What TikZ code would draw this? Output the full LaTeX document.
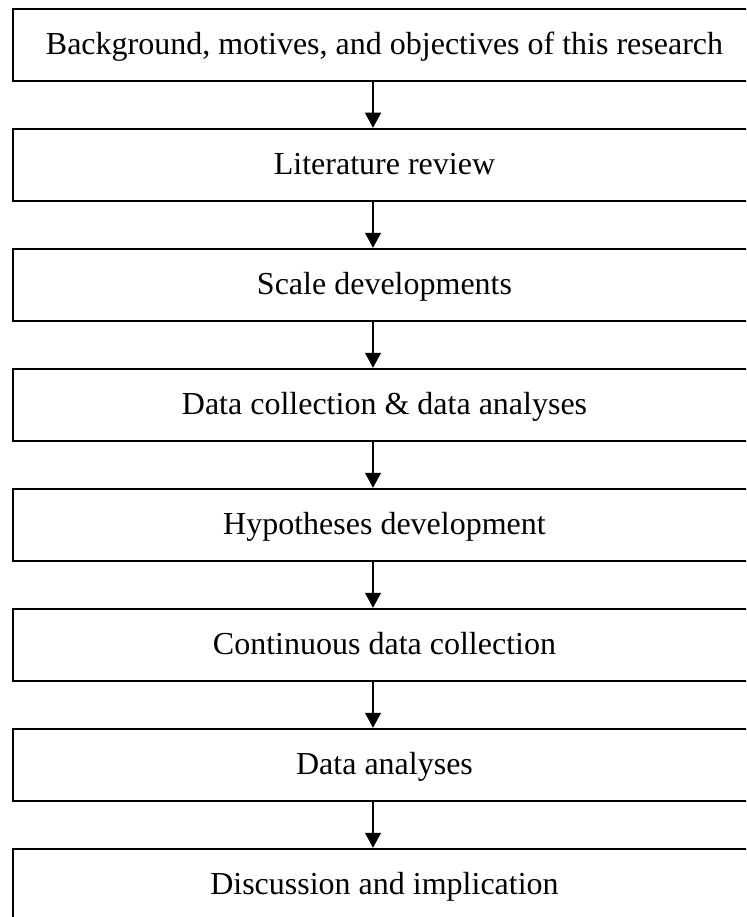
\documentclass[tikz,border=0pt]{standalone}
\usepackage{fontspec}
\setmainfont{Liberation Serif}
\usetikzlibrary{arrows.meta}
\begin{document}
\begin{tikzpicture}[x=1pt,y=-1pt,
  stepbox/.style={draw=black, line width=1.5pt, rectangle,
    minimum width=743pt, minimum height=72pt, inner sep=0pt,
    text height=22pt, text depth=3pt,
    font=\fontsize{32}{38}\selectfont},
  flow/.style={draw=black, line width=1.3pt, -{Triangle[width=16pt,length=15pt]}, shorten >=0.5pt}
]
\useasboundingbox (0,0) rectangle (746,917);
\clip (0,0) rectangle (746,917);
\fill[white] (0,0) rectangle (746,917);

% column of process steps, 120pt apart
\node[stepbox] (b1) at (384.5, 45)  {Background, motives, and objectives of this research};
\node[stepbox] (b2) at (384.5, 165) {Literature review};
\node[stepbox] (b3) at (384.5, 285) {Scale developments};
\node[stepbox] (b4) at (384.5, 405) {Data collection \& data analyses};
\node[stepbox] (b5) at (384.5, 525) {Hypotheses development};
\node[stepbox] (b6) at (384.5, 645) {Continuous data collection};
\node[stepbox] (b7) at (384.5, 765) {Data analyses};
\node[stepbox] (b8) at (384.5, 885) {Discussion and implication};

% arrows run down a common vertical line
\coordinate (ax) at (373, 0);
\foreach \a/\b in {b1/b2, b2/b3, b3/b4, b4/b5, b5/b6, b6/b7, b7/b8}
  \draw[flow] (\a.south -| ax) -- (\b.north -| ax);
\end{tikzpicture}
\end{document}
